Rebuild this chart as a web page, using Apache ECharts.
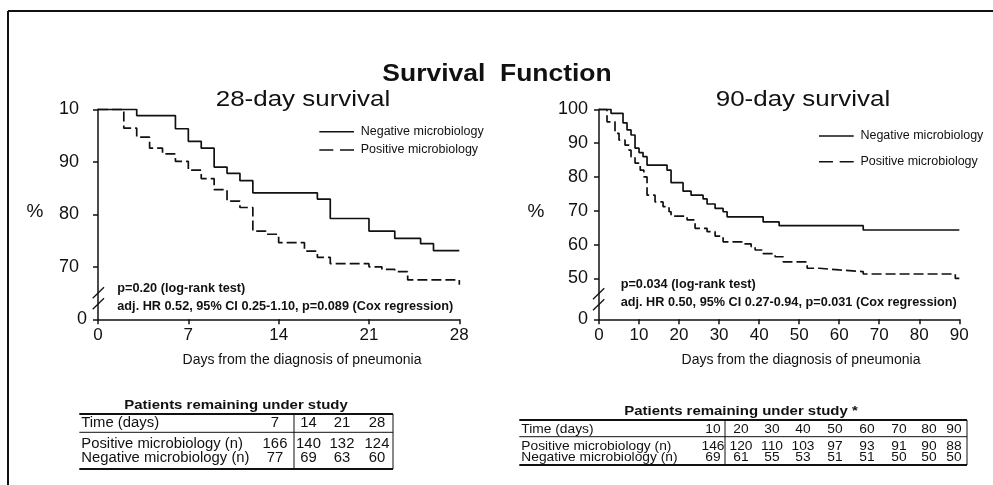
<!DOCTYPE html>
<html><head><meta charset="utf-8">
<script src="https://cdn.jsdelivr.net/npm/echarts@6/dist/echarts.min.js"></script>
<style>html,body{margin:0;padding:0;background:#fff}#c{width:993px;height:485px}</style>
</head><body><div id="c"></div>
<script>
const FONT = '"Liberation Sans", Arial, Helvetica, sans-serif';
const INK = '#111';

const chartTitle = 'Survival  Function';
const subTitles = ['28-day survival', '90-day survival'];
const seriesNames = ['Negative microbiology', 'Positive microbiology'];
const xAxisName = 'Days from the diagnosis of pneumonia';
const yAxisName = '%';

const xTicks28 = [0, 7, 14, 21, 28];
const xTicks90 = [0, 10, 20, 30, 40, 50, 60, 70, 80, 90];
const yTicks28 = [60, 70, 80, 90, 100];
const yLabels28 = ['0', '70', '80', '90', '10'];
const yTicks90 = [37.9, 50, 60, 70, 80, 90, 100];
const yLabels90 = ['0', '50', '60', '70', '80', '90', '100'];

// Kaplan-Meier steps: [day, survival % after the step]
const neg28 = [[0,100],[3,98.8],[6,96.3],[7,93.9],[8,92.6],[9,89.0],[10,87.8],[11,86.4],[12,84.1],[17,82.9],[18,79.2],[21,76.8],[23,75.4],[25,74.4],[26,73.1],[28,73.1]];
const pos28 = [[0,100],[2,96.4],[3,94.7],[4,92.6],[5,91.5],[6,90.1],[7,88.4],[8,86.8],[9,84.7],[10,82.5],[11,81.3],[12,76.8],[13,76.2],[14,74.6],[16,73.0],[17,71.8],[18,70.6],[21,70.0],[22,69.5],[23,69.1],[24,67.5],[28,66.6]];
const neg90 = [[0,100],[3,98.8],[6,96.0],[7,93.9],[8,92.4],[9,88.5],[10,87.2],[11,86.0],[12,83.5],[17,82.0],[18,78.3],[21,75.8],[23,74.6],[26,73.5],[27,72.0],[29,70.7],[31,69.7],[32,68.2],[41,66.7],[45,65.6],[66,64.3],[90,64.3]];
const pos90 = [[0,100],[2,96.3],[4,92.9],[5,90.9],[6.5,89.4],[7.5,87.9],[8,86.0],[9,84.1],[10.3,82.0],[11.2,80.0],[12,74.6],[14,72.6],[16,71.2],[17.5,69.7],[18,68.4],[22,67.3],[24,64.8],[27,63.8],[29,62.5],[31,60.8],[36,60.2],[38,59.4],[39,58.4],[41,57.3],[44,56.4],[46,54.9],[52,53.0],[55,52.5],[60,52.0],[66,51.3],[89,50.0],[90,50.0]];

const stats28 = ['p=0.20 (log-rank test)', 'adj. HR 0.52, 95% CI 0.25-1.10, p=0.089 (Cox regression)'];
const stats90 = ['p=0.034 (log-rank test)', 'adj. HR 0.50, 95% CI 0.27-0.94, p=0.031 (Cox regression)'];

const tableTitle28 = 'Patients remaining under study';
const tableTitle90 = 'Patients remaining under study *';
const rowLabels = ['Time (days)', 'Positive microbiology (n)', 'Negative microbiology (n)'];
const table28Days = [7, 14, 21, 28];
const table28Pos = [166, 140, 132, 124];
const table28Neg = [77, 69, 63, 60];
const table90Days = [10, 20, 30, 40, 50, 60, 70, 80, 90];
const table90Pos = [146, 120, 110, 103, 97, 93, 91, 90, 88];
const table90Neg = [69, 61, 55, 53, 51, 51, 50, 50, 50];

// ---------- layout ----------
const G = [
  {left: 98, top: 109.3, width: 361.3, height: 210},
  {left: 599, top: 109.3, width: 360.3, height: 210}
];

function txt(x, y, text, o) {
  o = o || {};
  return {
    type: 'text', x: x, y: y, scaleX: o.sx || 1, silent: true,
    style: {
      text: text, x: 0, y: 0, fill: o.color || INK,
      font: (o.bold ? 'bold ' : '') + (o.size || 14) + 'px ' + FONT,
      align: o.align || 'left', verticalAlign: 'middle'
    }
  };
}
function ln(x1, y1, x2, y2, w, dash) {
  return {type: 'line', silent: true, shape: {x1: x1, y1: y1, x2: x2, y2: y2},
    style: {stroke: INK, lineWidth: w || 1, lineDash: dash || null}};
}

function yAxisCfg(idx, ticks, labels, padNonZero) {
  return {
    type: 'value', gridIndex: idx, min: ticks[0], max: ticks[ticks.length - 1],
    axisLine: {show: true, lineStyle: {color: INK, width: 1.5}},
    axisTick: {show: true, length: 5, customValues: ticks, lineStyle: {color: INK, width: 1.5}},
    splitLine: {show: false},
    axisLabel: {
      customValues: ticks, margin: 11, color: INK, fontFamily: FONT, fontSize: 18,
      formatter: function (v) {
        let i = ticks.indexOf(v);
        let s = i >= 0 ? labels[i] : '';
        return i === 0 ? '{z|' + s + '}' : '{n|' + s + '}';
      },
      rich: {
        n: {fontSize: 18, fontFamily: FONT, color: INK, padding: [0, padNonZero, 0, 0]},
        z: {fontSize: 18, fontFamily: FONT, color: INK}
      }
    }
  };
}
function xAxisCfg(idx, ticks) {
  return {
    type: 'value', gridIndex: idx, min: ticks[0], max: ticks[ticks.length - 1],
    interval: ticks[1] - ticks[0],
    axisLine: {show: true, lineStyle: {color: INK, width: 1.5}},
    axisTick: {show: true, length: 5, lineStyle: {color: INK, width: 1.5}},
    splitLine: {show: false},
    axisLabel: {margin: 8, color: INK, fontFamily: FONT, fontSize: 17, showMinLabel: true, showMaxLabel: true}
  };
}
function kmSeries(name, data, xi, dashed) {
  return {
    name: name, type: 'line', step: 'end', data: data, xAxisIndex: xi, yAxisIndex: xi,
    symbol: 'none', silent: true, animation: false,
    lineStyle: {color: INK, width: 1.7, type: dashed ? [10, 4] : 'solid'},
    itemStyle: {color: INK}
  };
}
function legendGraphics(x, y1, y2) {
  return [
    ln(x, y1, x + 34.7, y1, 1.6),
    ln(x, y2, x + 34.7, y2, 1.6, [14, 6.7]),
    txt(x + 41.4, y1, seriesNames[0], {size: 12.5}),
    txt(x + 41.4, y2, seriesNames[1], {size: 12.5})
  ];
}

function tableGraphics(cfg) {
  const g = [];
  g.push(txt(cfg.titleX, cfg.titleY, cfg.title, {bold: true, size: 13, sx: 1.15, align: 'center'}));
  g.push(ln(cfg.x0, cfg.yTop, cfg.x1, cfg.yTop, 2));
  g.push(ln(cfg.x0, cfg.yMid, cfg.x1, cfg.yMid, 1));
  g.push(ln(cfg.x0, cfg.yBot, cfg.x1, cfg.yBot, 2));
  g.push(ln(cfg.xDiv, cfg.yTop, cfg.xDiv, cfg.yBot, 1));
  g.push(ln(cfg.x1, cfg.yTop, cfg.x1, cfg.yBot, 1));
  const rows = [cfg.days, cfg.pos, cfg.neg];
  rows.forEach(function (r, ri) {
    g.push(txt(cfg.x0 + 2, cfg.rowY[ri], rowLabels[ri], {size: cfg.fs, sx: cfg.sx}));
    r.forEach(function (v, ci) {
      g.push(txt(cfg.colX[ci], cfg.rowY[ri], String(v), {size: cfg.fs, sx: cfg.sx, align: 'center'}));
    });
  });
  return g;
}

const chart = echarts.init(document.getElementById('c'), null, {renderer: 'canvas'});

const graphics = [
  ln(8, 11, 993, 11, 2), ln(8, 11, 8, 485, 2),
  txt(497, 75, chartTitle, {bold: true, size: 23, sx: 1.15, align: 'center'}),
  txt(303, 99.5, subTitles[0], {size: 22, sx: 1.18, align: 'center'}),
  txt(803, 99.5, subTitles[1], {size: 22, sx: 1.18, align: 'center'}),
  txt(35, 211.7, yAxisName, {size: 19, align: 'center'}),
  txt(536, 211.7, yAxisName, {size: 19, align: 'center'}),
  txt(302, 360, xAxisName, {size: 14, sx: 1.0, align: 'center'}),
  txt(801, 360, xAxisName, {size: 14, sx: 1.0, align: 'center'}),
  txt(117.3, 288.3, stats28[0], {bold: true, size: 12.7}),
  txt(117.3, 306.7, stats28[1], {bold: true, size: 12.7}),
  txt(620.7, 284, stats90[0], {bold: true, size: 12.7}),
  txt(620.7, 302.7, stats90[1], {bold: true, size: 12.7}),
  // axis break marks
  ln(92.7, 298.3, 104, 287.3, 1.3), ln(92.7, 309.3, 104, 298.3, 1.3),
  ln(593, 299.3, 604.3, 288.3, 1.3), ln(593, 310.3, 604.3, 299.3, 1.3)
].concat(legendGraphics(319.3, 131.7, 150))
 .concat(legendGraphics(819, 136, 161.7))
 .concat(tableGraphics({
  title: tableTitle28, titleX: 236, titleY: 405, fs: 14, sx: 1.06,
  x0: 79.3, x1: 393, yTop: 414, yMid: 432.3, yBot: 469, xDiv: 294,
  rowY: [423.3, 444, 458.3], colX: [275, 308.5, 342, 377],
  days: table28Days, pos: table28Pos, neg: table28Neg
})).concat(tableGraphics({
  title: tableTitle90, titleX: 741, titleY: 411, fs: 13, sx: 1.06,
  x0: 519.3, x1: 967, yTop: 420, yMid: 436.7, yBot: 465, xDiv: 725,
  rowY: [429.3, 446.7, 457.7], colX: [713, 741, 772, 803, 835, 867, 899, 929, 954],
  days: table90Days, pos: table90Pos, neg: table90Neg
}));

chart.setOption({
  animation: false,
  backgroundColor: '#fff',
  grid: G.map(function (g) { return Object.assign({containLabel: false}, g); }),
  xAxis: [xAxisCfg(0, xTicks28), xAxisCfg(1, xTicks90)],
  yAxis: [yAxisCfg(0, yTicks28, yLabels28, 8), yAxisCfg(1, yTicks90, yLabels90, 0)],
  series: [
    kmSeries(seriesNames[0], neg28, 0, false),
    kmSeries(seriesNames[1], pos28, 0, true),
    kmSeries(seriesNames[0], neg90, 1, false),
    kmSeries(seriesNames[1], pos90, 1, true)
  ],
  graphic: graphics
});
</script></body></html>
